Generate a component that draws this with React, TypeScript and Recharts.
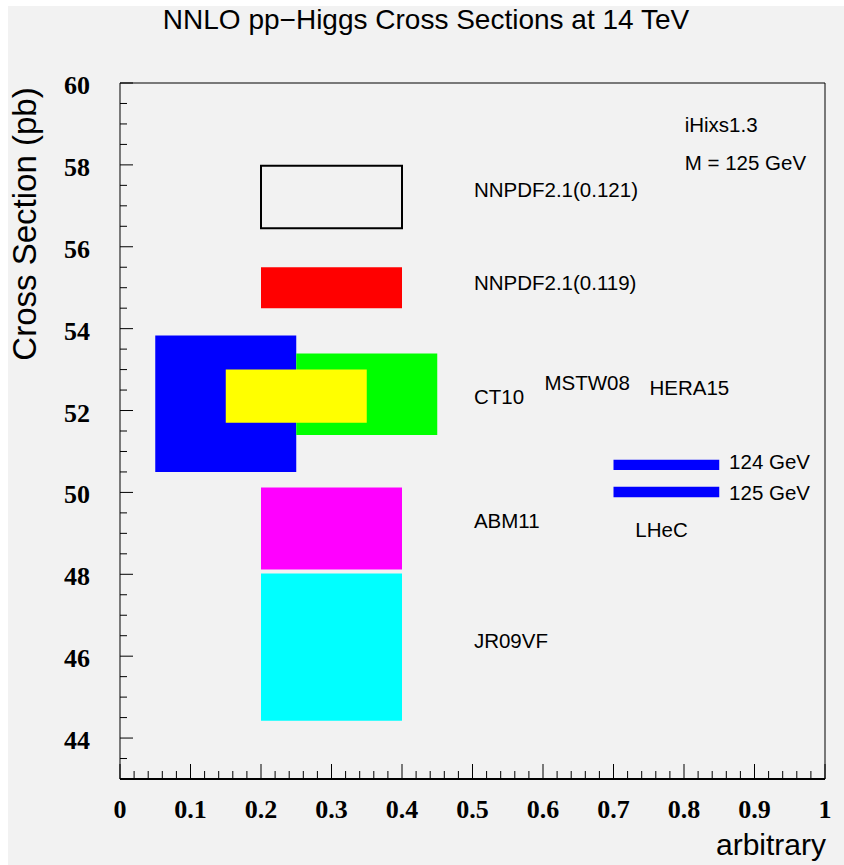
import {
  ComposedChart,
  XAxis,
  YAxis,
  ReferenceArea,
  ReferenceLine,
  Scatter
} from "recharts";

// cross-section bands per PDF set (pb), x extent in "arbitrary" units
const boxNames = ["NNPDF2.1(0.121)", "NNPDF2.1(0.119)", "MSTW08", "HERA15", "CT10", "ABM11", "JR09VF"];
const boxX0 = [0.2, 0.2, 0.05, 0.25, 0.15, 0.2, 0.2];
const boxX1 = [0.4, 0.4, 0.25, 0.45, 0.35, 0.4, 0.4];
const boxLow = [56.45, 54.5, 50.5, 51.4, 51.7, 48.12, 44.42];
const boxHigh = [57.98, 55.5, 53.83, 53.39, 53.0, 50.12, 48.02];
const boxColors = ["none", "#ff0000", "#0000ff", "#00ff00", "#ffff00", "#ff00ff", "#00ffff"];

// LHeC bars
const lhecMass = ["124 GeV", "125 GeV"];
const lhecX0 = [0.7, 0.7];
const lhecX1 = [0.85, 0.85];
const lhecLow = [50.55, 49.88];
const lhecHigh = [50.8, 50.14];

// text annotations
const noteText = ["iHixs1.3", "M = 125 GeV", "NNPDF2.1(0.121)", "NNPDF2.1(0.119)", "CT10", "MSTW08", "HERA15", "124 GeV", "125 GeV", "ABM11", "LHeC", "JR09VF"];
const noteX = [0.801, 0.801, 0.502, 0.502, 0.502, 0.602, 0.751, 0.864, 0.864, 0.502, 0.731, 0.502];
const noteY = [58.98, 58.05, 57.39, 55.12, 52.35, 52.68, 52.56, 50.75, 50.0, 49.3, 49.09, 46.37];

const yMajorTicks = [44, 46, 48, 50, 52, 54, 56, 58, 60];
const xMajorTicks = [0, 0.1, 0.2, 0.3, 0.4, 0.5, 0.6, 0.7, 0.8, 0.9, 1];
const xTickLabels = ["0", "0.1", "0.2", "0.3", "0.4", "0.5", "0.6", "0.7", "0.8", "0.9", "1"];

const W = 836;
const H = 859;
const sans = "'Liberation Sans', Arial, sans-serif";
const serif = "'Liberation Serif', 'Times New Roman', serif";

const yTicks: number[] = [];
for (let i = 0; i <= 34; i++) yTicks.push(43 + i * 0.5);
const xTicks: number[] = [];
for (let i = 0; i <= 50; i++) xTicks.push(Math.round(i * 2) / 100);

const notes = noteText.map((t, i) => ({ x: noteX[i], y: noteY[i], text: t }));

function YTick(props: any) {
  const { x, y, payload } = props;
  const v = payload.value;
  const major = yMajorTicks.some((m) => Math.abs(m - v) < 1e-6);
  return (
    <g>
      <line x1={x} x2={x + (major ? 13 : 7)} y1={y} y2={y} stroke="#000" strokeWidth={1} />
      {major && (
        <text x={x - 30} y={y + 11} textAnchor="end" fontFamily={serif} fontWeight="bold" fontSize={26} fill="#000">
          {v}
        </text>
      )}
    </g>
  );
}

function XTick(props: any) {
  const { x, y, payload } = props;
  const v = payload.value;
  const idx = xMajorTicks.findIndex((m) => Math.abs(m - v) < 1e-6);
  const major = idx >= 0;
  return (
    <g>
      <line x1={x} x2={x} y1={y} y2={y - (major ? 15 : 8)} stroke="#000" strokeWidth={1} />
      {major && (
        <text x={x} y={y + 39} textAnchor="middle" fontFamily={serif} fontWeight="bold" fontSize={26} fill="#000">
          {xTickLabels[idx]}
        </text>
      )}
    </g>
  );
}

function Note(props: any) {
  const { cx, cy, payload } = props;
  return (
    <text x={cx} y={cy} dy="0.36em" fontFamily={sans} fontSize={20.5} fill="#000">
      {payload.text}
    </text>
  );
}

export default function App() {
  return (
    <>
      <style>{"body{margin:0;overflow:hidden}"}</style>
      <div style={{ position: "absolute", left: 8, top: 6, width: W, height: H, background: "#f2f2f2" }}>
        <div
          style={{
            position: "absolute",
            top: 0,
            left: 0,
            width: W,
            textAlign: "center",
            fontFamily: sans,
            fontSize: 28,
            lineHeight: "28px",
            color: "#000"
          }}
        >
          NNLO pp−Higgs Cross Sections at 14 TeV
        </div>
        <ComposedChart width={W} height={H} margin={{ top: 77, right: 19, bottom: 0, left: 0 }}>
          <XAxis
            type="number"
            dataKey="x"
            domain={[0, 1]}
            ticks={xTicks}
            interval={0}
            tick={<XTick />}
            tickLine={false}
            tickSize={0}
            tickMargin={0}
            height={86}
            axisLine={{ stroke: "#000", strokeWidth: 2 }}
            allowDataOverflow
            label={(p: any) => {
              const vb = p.viewBox;
              return (
                <text x={vb.x + vb.width + 1} y={vb.y + 76} textAnchor="end" fontFamily={sans} fontSize={30} fill="#000">
                  arbitrary
                </text>
              );
            }}
          />
          <YAxis
            type="number"
            dataKey="y"
            domain={[43, 60]}
            ticks={yTicks}
            interval={0}
            tick={<YTick />}
            tickLine={false}
            tickSize={0}
            tickMargin={0}
            width={112}
            axisLine={{ stroke: "#000", strokeWidth: 1 }}
            allowDataOverflow
            label={(p: any) => {
              const vb = p.viewBox;
              const cx = 28;
              const cy = vb.y + 141;
              return (
                <g transform={`translate(${cx}, ${cy}) rotate(-90)`}>
                  <text x={0} y={0} textAnchor="middle" fontFamily={sans} fontSize={33} fill="#000">
                    Cross Section (pb)
                  </text>
                </g>
              );
            }}
          />
          <ReferenceLine y={60} stroke="#000" strokeWidth={1} />
          <ReferenceLine x={1} stroke="#000" strokeWidth={1} />
          {boxNames.map((n, i) => (
            <ReferenceArea
              key={n}
              x1={boxX0[i]}
              x2={boxX1[i]}
              y1={boxLow[i]}
              y2={boxHigh[i]}
              fill={boxColors[i]}
              fillOpacity={1}
              stroke={boxColors[i] === "none" ? "#000" : "none"}
              strokeWidth={2}
            />
          ))}
          {lhecMass.map((m, i) => (
            <ReferenceArea
              key={m}
              x1={lhecX0[i]}
              x2={lhecX1[i]}
              y1={lhecLow[i]}
              y2={lhecHigh[i]}
              fill="#0000ff"
              fillOpacity={1}
              stroke="none"
            />
          ))}
          <Scatter data={notes} dataKey="y" shape={<Note />} isAnimationActive={false} />
        </ComposedChart>
      </div>
    </>
  );
}
